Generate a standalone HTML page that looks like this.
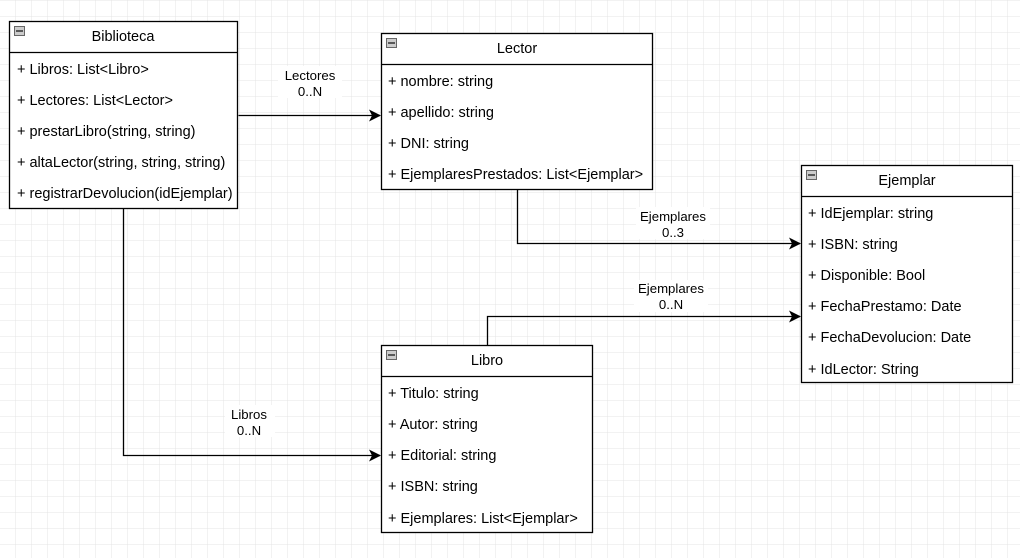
<!DOCTYPE html>
<html><head><meta charset="utf-8"><style>
html,body{margin:0;padding:0;background:#fff}
svg{display:block}
text{font-family:"Liberation Sans",Arial,sans-serif;font-size:14.5px;fill:#000}
text.l{font-size:13.2px}
</style></head><body>
<svg width="1020" height="558" xmlns="http://www.w3.org/2000/svg">
<defs>
<pattern id="g" width="16" height="16" patternUnits="userSpaceOnUse" x="0" y="1">
<path d="M16 0V16M0 16H16" stroke="#e4e4e4" stroke-width="1" fill="none"/>
</pattern>
<marker id="a" markerWidth="12" markerHeight="12" refX="11" refY="6" orient="auto" markerUnits="userSpaceOnUse">
<path d="M0,0 L12,6 L0,12 L3,6 Z" fill="#000"/>
</marker>
</defs>
<rect width="1020" height="558" fill="url(#g)"/>

<g fill="none" stroke="#000" stroke-width="1.3">
<path d="M238.5 115.5H380" marker-end="url(#a)"/>
<path d="M517.5 190V243.5H800" marker-end="url(#a)"/>
<path d="M487.5 345V316.5H800" marker-end="url(#a)"/>
<path d="M123.5 209V455.5H380" marker-end="url(#a)"/>
</g>
<g text-anchor="middle">
<rect x="278" y="66" width="64" height="32" fill="#fff"/>
<text class="l" x="310" y="80">Lectores</text><text class="l" x="310" y="96">0..N</text>
<rect x="636" y="207" width="74" height="32" fill="#fff"/>
<text class="l" x="673" y="221">Ejemplares</text><text class="l" x="673" y="237">0..3</text>
<rect x="634" y="280" width="74" height="32" fill="#fff"/>
<text class="l" x="671" y="293">Ejemplares</text><text class="l" x="671" y="309">0..N</text>
<rect x="225" y="405" width="50" height="32" fill="#fff"/>
<text class="l" x="249" y="419">Libros</text><text class="l" x="249" y="435">0..N</text>
</g>

<!-- Biblioteca -->
<g>
<rect x="9.5" y="21.5" width="228" height="187" fill="#fff" stroke="#000" stroke-width="1.3"/>
<line x1="9.5" y1="52.5" x2="237.5" y2="52.5" stroke="#000" stroke-width="1.3"/>
<rect x="14.5" y="26.5" width="10" height="9" fill="#ccc" stroke="#666"/><line x1="16" y1="31" x2="23" y2="31" stroke="#333" stroke-width="1.5"/>
<text x="123" y="41" text-anchor="middle">Biblioteca</text>
<text x="17" y="74">+ Libros: List&lt;Libro&gt;</text>
<text x="17" y="105">+ Lectores: List&lt;Lector&gt;</text>
<text x="17" y="136">+ prestarLibro(string, string)</text>
<text x="17" y="167">+ altaLector(string, string, string)</text>
<text x="17" y="198">+ registrarDevolucion(idEjemplar)</text>
</g>
<!-- Lector -->
<g>
<rect x="381.5" y="33.5" width="271" height="156" fill="#fff" stroke="#000" stroke-width="1.3"/>
<line x1="381.5" y1="64.5" x2="652.5" y2="64.5" stroke="#000" stroke-width="1.3"/>
<rect x="386.5" y="38.5" width="10" height="9" fill="#ccc" stroke="#666"/><line x1="388" y1="43" x2="395" y2="43" stroke="#333" stroke-width="1.5"/>
<text x="517" y="53" text-anchor="middle">Lector</text>
<text x="388" y="86">+ nombre: string</text>
<text x="388" y="117">+ apellido: string</text>
<text x="388" y="148">+ DNI: string</text>
<text x="388" y="179">+ EjemplaresPrestados: List&lt;Ejemplar&gt;</text>
</g>
<!-- Ejemplar -->
<g>
<rect x="801.5" y="165.5" width="211" height="217" fill="#fff" stroke="#000" stroke-width="1.3"/>
<line x1="801.5" y1="196.5" x2="1012.5" y2="196.5" stroke="#000" stroke-width="1.3"/>
<rect x="806.5" y="170.5" width="10" height="9" fill="#ccc" stroke="#666"/><line x1="808" y1="175" x2="815" y2="175" stroke="#333" stroke-width="1.5"/>
<text x="907" y="185" text-anchor="middle">Ejemplar</text>
<text x="808" y="218">+ IdEjemplar: string</text>
<text x="808" y="249">+ ISBN: string</text>
<text x="808" y="280">+ Disponible: Bool</text>
<text x="808" y="311">+ FechaPrestamo: Date</text>
<text x="808" y="342">+ FechaDevolucion: Date</text>
<text x="808" y="374">+ IdLector: String</text>
</g>
<!-- Libro -->
<g>
<rect x="381.5" y="345.5" width="211" height="187" fill="#fff" stroke="#000" stroke-width="1.3"/>
<line x1="381.5" y1="376.5" x2="592.5" y2="376.5" stroke="#000" stroke-width="1.3"/>
<rect x="386.5" y="350.5" width="10" height="9" fill="#ccc" stroke="#666"/><line x1="388" y1="355" x2="395" y2="355" stroke="#333" stroke-width="1.5"/>
<text x="487" y="365" text-anchor="middle">Libro</text>
<text x="388" y="398">+ Titulo: string</text>
<text x="388" y="429">+ Autor: string</text>
<text x="388" y="460">+ Editorial: string</text>
<text x="388" y="491">+ ISBN: string</text>
<text x="388" y="523">+ Ejemplares: List&lt;Ejemplar&gt;</text>
</g>
</svg>
</body></html>
